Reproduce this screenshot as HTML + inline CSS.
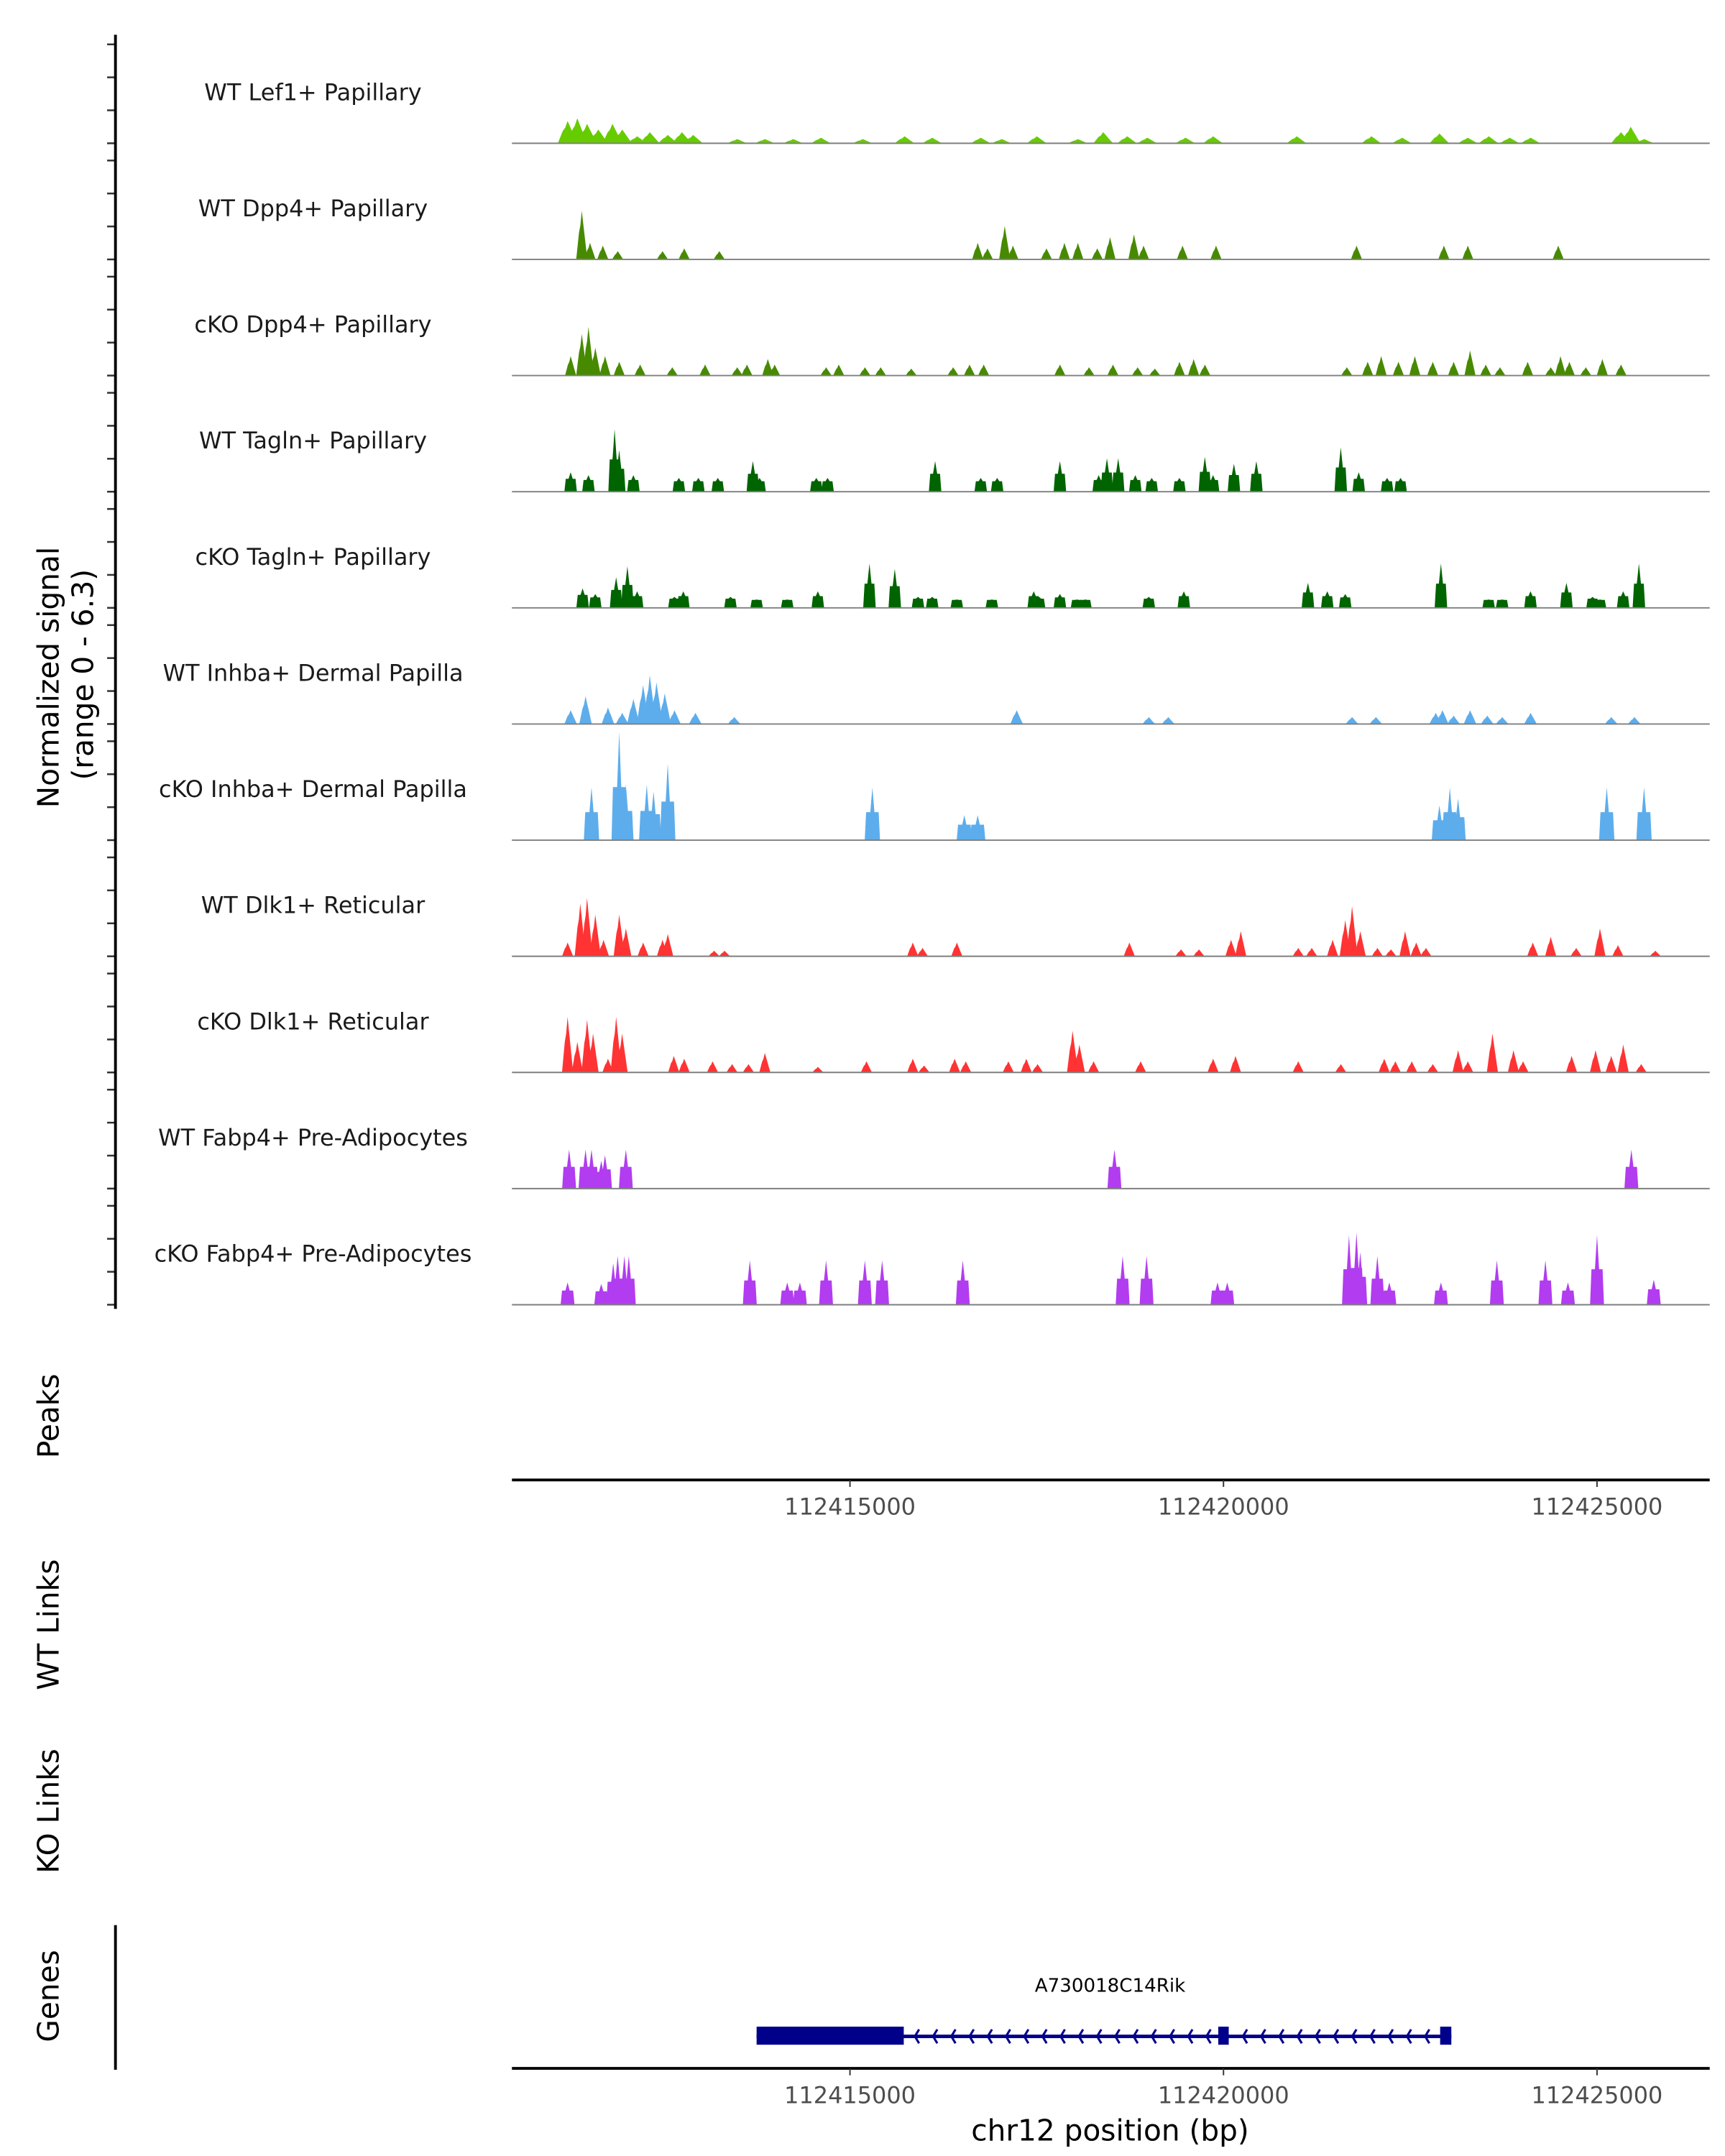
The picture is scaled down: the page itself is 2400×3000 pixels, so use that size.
<!DOCTYPE html>
<html><head><meta charset="utf-8"><style>
html,body{margin:0;padding:0;background:#fff}
svg{display:block}
text{font-family:"DejaVu Sans","Liberation Sans",sans-serif}
</style></head><body>
<svg id="chart" xmlns="http://www.w3.org/2000/svg" width="2400" height="3000" viewBox="0 0 1240 1550">
<g id="tracks"></g>
<g id="axes"></g>
</svg>
<script>
// ---- data (positions: kb offset from 112,415,000; heights: normalized signal) ----
const trackNames = ["WT Lef1+ Papillary","WT Dpp4+ Papillary","cKO Dpp4+ Papillary","WT Tagln+ Papillary","cKO Tagln+ Papillary","WT Inhba+ Dermal Papilla","cKO Inhba+ Dermal Papilla","WT Dlk1+ Reticular","cKO Dlk1+ Reticular","WT Fabp4+ Pre-Adipocytes","cKO Fabp4+ Pre-Adipocytes"];
const pos1 = [-3.78,-3.65,-3.52,-3.37,-3.18,-3.05,-2.85,-2.68,-2.44,-2.25,-2.10,-1.51,-1.14,-0.76,-0.39,0.17,0.73,1.10,1.75,2.03,2.50,3.05,3.39,3.71,3.98,4.49,4.86,5.98,6.98,7.39,7.89,8.27,8.55,8.83,9.11,10.32,10.45,10.63];
const val1 = [1.21,1.36,1.06,.75,1.06,.75,.38,.6,.45,.6,.45,.23,.23,.23,.3,.23,.38,.3,.3,.23,.38,.23,.6,.38,.3,.3,.38,.38,.38,.3,.53,.3,.38,.3,.3,.6,.9,.23];
const pos2 = [-3.59,-3.48,-3.31,-3.11,-2.51,-2.22,-1.75,1.71,1.84,2.07,2.18,2.63,2.87,3.05,3.31,3.48,3.80,3.93,4.45,4.90,6.78,7.95,8.27,9.48];
const val2 = [2.64,.9,.75,.45,.45,.6,.45,.9,.6,1.81,.75,.6,.9,.9,.6,1.21,1.36,.75,.75,.75,.75,.75,.75,.75];
const pos3 = [-3.74,-3.59,-3.50,-3.41,-3.28,-3.09,-2.81,-2.38,-1.94,-1.51,-1.38,-1.10,-1.01,-0.32,-0.15,0.20,0.41,0.82,1.38,1.60,1.79,2.81,3.20,3.52,3.85,4.08,4.41,4.60,4.75,6.65,6.93,7.11,7.34,7.56,7.80,8.08,8.30,8.51,8.70,9.07,9.38,9.51,9.63,9.85,10.07,10.32];
const val3 = [1.06,2.26,2.64,1.51,1.06,.75,.6,.45,.6,.45,.6,.9,.6,.45,.6,.45,.45,.38,.45,.6,.6,.6,.45,.6,.45,.38,.75,.9,.6,.45,.75,1.06,.75,1.06,.75,.75,1.36,.6,.45,.75,.45,1.06,.75,.45,.9,.6];
const pos4 = [-3.74,-3.50,-3.15,-3.09,-2.90,-2.29,-2.03,-1.77,-1.30,-1.21,-0.45,-0.30,1.14,1.75,1.97,2.81,3.33,3.44,3.59,3.82,4.04,4.41,4.75,4.86,5.14,5.44,6.57,6.81,7.19,7.37];
const val4 = [1.06,.9,3.39,2.26,.9,.75,.75,.75,1.66,.75,.75,.75,1.66,.75,.75,1.66,.9,1.81,1.81,.9,.75,.75,1.89,.9,1.51,1.66,2.41,1.06,.75,.75];
const pos5 = [-3.58,-3.41,-3.13,-2.98,-2.85,-2.35,-2.23,-1.60,-1.25,-0.84,-0.43,0.26,0.60,0.91,1.10,1.43,1.90,2.46,2.53,2.81,3.04,3.15,4.00,4.47,6.13,6.39,6.63,7.91,8.55,8.73,9.11,9.59,9.94,10.04,10.35,10.56];
const val5 = [1.06,.75,1.66,2.26,.9,.6,.9,.6,.45,.45,.9,2.41,2.11,.6,.6,.45,.45,.9,.6,.75,.45,.45,.6,.9,1.36,.9,.75,2.41,.45,.45,.9,1.36,.6,.45,.9,2.41];
const pos6 = [-3.74,-3.54,-3.24,-3.05,-2.90,-2.77,-2.68,-2.59,-2.48,-2.35,-2.07,-1.55,2.23,4.00,4.26,6.72,7.04,7.84,7.93,8.08,8.30,8.53,8.73,9.11,10.19,10.50];
const val6 = [.75,1.51,.9,.6,1.36,2.11,2.64,2.26,1.66,.75,.6,.38,.75,.38,.38,.38,.38,.6,.75,.45,.75,.45,.38,.6,.38,.38];
const pos7 = [-3.46,-3.09,-3.00,-2.72,-2.63,-2.44,0.30,1.53,1.71,7.89,8.03,8.14,10.13,10.63];
const val7 = [2.86,5.88,3.02,3.02,2.64,4.15,2.86,1.36,1.36,1.89,2.86,2.26,2.86,2.86];
const pos8 = [-3.78,-3.61,-3.52,-3.41,-3.30,-3.09,-3.00,-2.77,-2.51,-2.44,-1.82,-1.68,0.84,0.97,1.43,3.74,4.43,4.67,5.10,5.23,6.00,6.18,6.46,6.63,6.72,6.83,7.06,7.24,7.43,7.58,7.71,9.14,9.38,9.72,10.04,10.28,10.78];
const val8 = [.75,2.86,3.17,2.26,.9,2.26,1.51,.75,.9,1.21,.3,.3,.75,.45,.75,.75,.38,.38,.9,1.36,.45,.45,.9,1.96,2.71,1.36,.45,.38,1.36,.75,.45,.75,1.06,.45,1.51,.6,.3];
const pos9 = [-3.78,-3.65,-3.52,-3.44,-3.24,-3.13,-3.05,-2.36,-2.22,-1.84,-1.58,-1.36,-1.14,-0.43,0.22,0.84,0.99,1.40,1.55,2.12,2.36,2.51,2.98,3.07,3.26,3.89,4.86,5.16,6.00,6.57,7.15,7.30,7.52,7.80,8.14,8.27,8.60,8.88,9.01,9.66,9.98,10.19,10.35,10.59];
const val9 = [3.02,1.66,2.86,2.11,.75,3.02,2.11,.9,.75,.6,.45,.45,1.06,.3,.6,.75,.38,.75,.6,.6,.75,.45,2.26,1.51,.6,.6,.75,.9,.6,.45,.75,.6,.6,.45,1.21,.6,2.11,1.21,.6,.9,1.21,.9,1.51,.45];
const pos10 = [-3.76,-3.54,-3.46,-3.33,-3.28,-3.00,3.54,10.46];
const val10 = [2.11,2.11,2.11,1.51,1.81,2.11,2.11,2.11];
const pos11 = [-3.78,-3.33,-3.17,-3.11,-3.02,-2.96,-1.34,-0.84,-0.67,-0.32,0.20,0.43,1.51,3.65,3.97,4.92,5.05,6.68,6.78,6.83,7.06,7.22,7.91,8.66,9.31,9.61,10.00,10.76];
const val11 = [1.21,1.13,2.26,2.64,2.64,2.64,2.41,1.21,1.21,2.41,2.41,2.41,2.41,2.64,2.64,1.21,1.21,3.77,3.92,2.86,2.64,1.21,1.21,2.41,2.41,1.21,3.77,1.36];
const xTicks = [112415000,112420000,112425000];
const geneName = "A730018C14Rik";
const geneStartKb = -1.25, geneEndKb = 8.05;
const exonsKb = [[-1.25,0.72],[4.93,5.07],[7.90,8.05]];

// ---- scales ----
const NS="http://www.w3.org/2000/svg";
const X0=611, PXKB=53.7;
function x(kb){return X0+kb*PXKB;}
function xbp(bp){return X0+(bp-112415000)/1000*PXKB;}
const PXU=13.25;
function y(v,base){return base-v*PXU;}
function mk(tag,attrs,parent){const e=document.createElementNS(NS,tag);for(const k in attrs)e.setAttribute(k,attrs[k]);parent.appendChild(e);return e;}

const positions=[pos1,pos2,pos3,pos4,pos5,pos6,pos7,pos8,pos9,pos10,pos11];
const values=[val1,val2,val3,val4,val5,val6,val7,val8,val9,val10,val11];
const colors=["#66CC00","#478A00","#478A00","#006400","#006400","#5DADEC","#5DADEC","#FF3333","#FF3333","#B23CF0","#B23CF0"];
const blocky=[false,false,false,true,true,false,true,false,false,true,true];
const widths=[14,8,8,7,7,9,9,8,8,8,8];
const tg=document.getElementById('tracks');
const ax=document.getElementById('axes');

for(let t=0;t<11;t++){
  const base=103+t*83.5;
  const g=mk('g',{},tg);
  
  
  const lbl=mk('text',{x:225,y:base-31,'text-anchor':'middle','font-size':16.5,fill:'#1a1a1a'},g);
  lbl.textContent=trackNames[t];
  
  
  const w=widths[t];
  positions[t].forEach((p,i)=>{
    const cx=x(p), top=y(values[t][i],base), h=base-top;
    let pts;
    if(blocky[t]){
      const bh=Math.min(h, h*0.45+3);
      pts=[[cx-w/2-1,base],[cx-w/2,base-bh],[cx-1.5,base-bh],[cx,top],[cx+1.5,base-bh],[cx+w/2,base-bh],[cx+w/2+1,base]];
    } else {
      pts=[[cx-w/2,base],[cx-w/4,base-h*0.55],[cx-w/8,base-h*0.7],[cx,top],[cx+w/8,base-h*0.75],[cx+w/4,base-h*0.5],[cx+w/2,base]];
    }
    const pg=mk('polygon',{points:pts.map(q=>q[0].toFixed(1)+','+q[1].toFixed(1)).join(' '),fill:colors[t]},g);
    
    
  });
  const bl=mk('line',{x1:368,x2:1229,y1:base,y2:base,stroke:'#7f7f7f','stroke-width':1},g);
  
  
  for(let k=0;k<4;k++){
    const tk=mk('line',{x1:77,x2:83,y1:base-k*23.7,y2:base-k*23.7,stroke:'#333','stroke-width':1.3},ax);
    
    
  }
}
const ya=mk('line',{x1:83,x2:83,y1:25,y2:941,stroke:'#000','stroke-width':2},ax);


function rlabel(txt,cx,cy,size,name){
  const e=mk('text',{x:cx,y:cy,'text-anchor':'middle','font-size':size,fill:'#000',transform:'rotate(-90 '+cx+' '+cy+')'},ax);
  e.textContent=txt;
  
  
}
rlabel('Normalized signal',42,487,21,'y-axis-title');
rlabel('(range 0 - 6.3)',67,485,21,'y-axis-subtitle');
rlabel('Peaks',42,1018,21,'peaks-track-title');
rlabel('WT Links',42,1168,21,'wt-links-title');
rlabel('KO Links',42,1302,21,'ko-links-title');
rlabel('Genes',42,1435,21,'genes-track-title');

function xaxis(yy,name){
  const l=mk('line',{x1:368,x2:1229,y1:yy,y2:yy,stroke:'#000','stroke-width':2},ax);
  
  
  xTicks.forEach(v=>{
    const tk=mk('line',{x1:xbp(v),x2:xbp(v),y1:yy,y2:yy+5,stroke:'#333','stroke-width':1},ax);
    
    
    const tl=mk('text',{x:xbp(v),y:yy+25,'text-anchor':'middle','font-size':16.5,fill:'#4d4d4d'},ax);
    tl.textContent=v;
    
    
  });
}
xaxis(1064,'peaks-x-axis');
xaxis(1487,'x-axis');
const xt=mk('text',{x:798,y:1539,'text-anchor':'middle','font-size':21,fill:'#000'},ax);
xt.textContent='chr12 position (bp)';


const ga=mk('line',{x1:83,x2:83,y1:1384,y2:1488,stroke:'#000','stroke-width':2},ax);



// gene model
const gg=mk('g',{},ax);


const gl=mk('text',{x:798,y:1432,'text-anchor':'middle','font-size':13.5,fill:'#000'},gg);
gl.textContent=geneName;


const gline=mk('line',{x1:x(geneStartKb),x2:x(geneEndKb),y1:1464,y2:1464,stroke:'#00008B','stroke-width':2.5},gg);


exonsKb.forEach((e,i)=>{
  const r=mk('rect',{x:x(e[0]),y:1457,width:x(e[1])-x(e[0]),height:13,fill:'#00008B'},gg);
  
  
});
for(let ax0=x(exonsKb[0][1])+8; ax0<x(exonsKb[2][0])-4; ax0+=13.1){
  if(Math.abs(ax0-x(exonsKb[1][0]))<6) continue;
  const a=mk('polyline',{points:(ax0+3)+',1459 '+ax0+',1464 '+(ax0+3)+',1469',fill:'none',stroke:'#00008B','stroke-width':1.6},gg);
  
  
}
</script>
</body></html>
